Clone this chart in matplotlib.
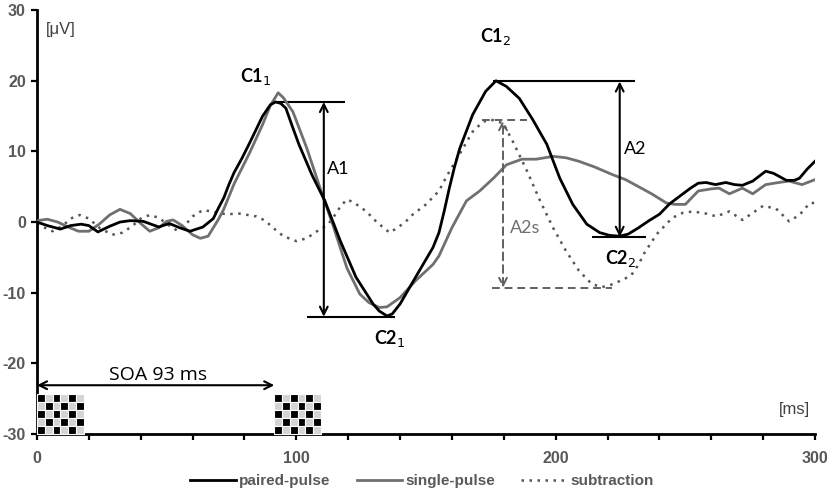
import matplotlib.pyplot as plt
from matplotlib.patches import Rectangle

plt.rcParams['font.family'] = ['Liberation Sans', 'DejaVu Sans']
plt.rcParams['axes.unicode_minus'] = False

# time axis (ms) and amplitude (uV)
t_paired = [0, 4, 9, 13, 17, 20, 23.5, 28, 32, 36, 41, 47, 51, 55, 59, 64, 68, 70,
            72, 74, 76, 79, 82, 87, 90, 92, 94, 96, 98.5, 101, 106, 111, 117, 123,
            129.6, 132, 135, 137, 140, 146, 152.7, 155, 157, 159, 161, 163, 168,
            173, 177, 181, 186, 191, 196.6, 201.6, 206.6, 212, 217, 221, 224.7,
            228, 232, 236, 240, 244, 248, 252, 255, 258, 261.6, 265.6, 269, 272,
            276, 281, 284, 287, 289, 292, 294, 297, 300]
v_paired = [0.0, -0.5, -1.0, -0.5, -0.3, -0.5, -1.4, -0.6, 0.0, 0.2, 0.1, -0.7,
            -0.2, -0.8, -1.3, -0.7, 0.5, 2.0, 3.4, 5.3, 7.0, 9.0, 11.2, 15.0, 16.6,
            17.0, 16.8, 16.1, 13.5, 11.0, 6.7, 3.0, -2.7, -7.8, -11.6, -12.6, -13.3,
            -13.0, -11.6, -7.8, -3.6, -1.5, 1.5, 4.8, 7.8, 10.4, 15.2, 18.5, 20.0,
            19.2, 17.5, 14.6, 11.0, 6.2, 2.5, -0.3, -1.5, -1.9, -2.0, -1.7, -0.8,
            0.2, 1.1, 2.6, 3.7, 4.8, 5.5, 5.6, 5.3, 5.6, 5.3, 5.2, 5.8, 7.2, 6.9,
            6.3, 5.9, 5.9, 6.2, 7.5, 8.6]

t_single = [0, 4, 8, 12, 16, 20, 24, 28, 32, 36, 40, 43.5, 47, 50, 52.5, 56, 60,
            63, 66, 70, 72, 74, 76, 79, 82, 87, 90, 93, 95, 98.7, 104, 110, 114,
            119.5, 124.5, 128, 132, 135, 140, 146, 152.7, 155, 160, 165.6, 170.7,
            176, 181, 187, 192.5, 199, 204, 209, 215, 222, 227, 232, 237, 242.7,
            246, 250, 255, 260, 263, 267, 272, 276, 281, 286, 290, 295, 300]
v_single = [0.2, 0.4, 0.0, -0.7, -1.3, -1.3, -0.3, 1.0, 1.8, 1.2, -0.2, -1.3, -0.8,
            0.1, 0.3, -0.5, -1.8, -2.3, -2.0, 0.4, 1.8, 3.6, 5.4, 7.6, 9.8, 13.8,
            16.5, 18.3, 17.6, 15.6, 10.5, 3.9, -0.3, -6.5, -10.2, -11.4, -12.1,
            -12.0, -10.7, -8.3, -6.0, -4.8, -0.8, 3.0, 4.4, 6.2, 8.1, 8.9, 8.9, 9.3,
            9.1, 8.6, 7.8, 6.7, 6.0, 5.0, 4.0, 2.7, 2.5, 2.5, 4.4, 4.7, 4.8, 4.0,
            4.8, 4.0, 5.3, 5.6, 5.8, 5.3, 6.0]

t_sub = [0, 3, 6, 10, 13, 16.5, 20, 24, 29, 33, 37, 40, 43.5, 47, 51, 54, 57, 60,
         64, 69, 73, 78, 84.6, 88, 91, 95, 100, 104, 108, 112, 114, 117, 119.5, 122,
         124, 127, 131, 136, 139, 142, 145, 150, 155, 158, 162, 168, 172, 175,
         179.7, 183.5, 189, 194, 199, 204, 209, 214, 218, 222, 225, 229, 232, 234,
         239, 245, 249, 253, 258, 262, 267, 272, 276, 280, 285, 290, 294, 298, 300]
v_sub = [-0.2, -0.8, -1.3, -0.5, 0.5, 1.0, 0.5, -0.8, -1.8, -1.5, -0.5, 0.5, 1.0,
         0.6, -0.5, -1.2, -0.5, 0.8, 1.7, 1.4, 1.1, 1.2, 0.8, 0.2, -0.8, -2.0, -2.7,
         -2.3, -1.3, -0.4, 0.5, 2.2, 3.2, 2.8, 2.3, 1.5, 0.0, -1.5, -0.8, 0.0, 1.1,
         2.5, 4.4, 6.5, 9.0, 12.8, 14.2, 14.5, 14.0, 11.4, 7.2, 3.0, -0.8, -4.1,
         -6.9, -8.8, -9.2, -8.8, -8.3, -7.6, -6.0, -4.5, -1.7, 0.6, 1.3, 1.5, 1.2,
         0.8, 1.5, 0.3, 1.3, 2.3, 1.9, 0.1, 1.0, 2.7, 2.7]

labels = ['paired-pulse', 'single-pulse', 'subtraction']
x_ticks = [0, 100, 200, 300]
y_ticks = [-30, -20, -10, 0, 10, 20, 30]

fig = plt.figure(figsize=(8.29, 4.94), dpi=100)
ax = fig.add_axes([0.0446, 0.1215, 0.9385, 0.858])

ax.plot(t_paired, v_paired, color='black', lw=2.0, label=labels[0], zorder=4)
ax.plot(t_single, v_single, color='#707070', lw=2.0, label=labels[1], zorder=3)
ax.plot(t_sub, v_sub, color='#555555', lw=1.8, ls=(0, (1, 2.2)), label=labels[2], zorder=2)

ax.set_xlim(0, 300)
ax.set_ylim(-30, 30)
ax.set_xticks(range(0, 301, 20), minor=True)
ax.set_xticks(x_ticks)
ax.set_yticks(y_ticks)
for s in ['top', 'right']:
    ax.spines[s].set_visible(False)
for s in ['left', 'bottom']:
    ax.spines[s].set_linewidth(2)
ax.tick_params(which='both', direction='out', length=4, width=1.6, color='black')
ax.tick_params(axis='both', labelsize=11.5, labelcolor='#595959', pad=4)
for lab in ax.get_xticklabels() + ax.get_yticklabels():
    lab.set_fontweight('bold')
ax.tick_params(axis='x', pad=8)

ax.text(3.5, 27.3, '[μV]', fontsize=12, color='#404040', va='center')
ax.text(298, -26.6, '[ms]', fontsize=12, color='#404040', va='center', ha='right')

# peak/trough markers and amplitudes
ann = dict(fontsize=13, family=['Lato', 'DejaVu Sans'])
ax.hlines(17.0, 91.8, 118.7, color='black', lw=1.5)
ax.hlines(-13.4, 104, 138, color='black', lw=1.5)
ax.annotate('', xy=(110.6, 17.0), xytext=(110.6, -13.4),
            arrowprops=dict(arrowstyle='<->', color='black', lw=1.5, shrinkA=0, shrinkB=0,
                            mutation_scale=14))
ax.text(112, 7.5, 'A1', va='center', **ann)
ax.text(84.5, 20.6, 'C1$_1$', ha='center', va='center', fontweight='bold', **ann)
ax.text(136, -16.5, 'C2$_1$', ha='center', va='center', fontweight='bold', **ann)

ax.hlines(19.9, 175.8, 230.5, color='black', lw=1.5)
ax.hlines(-2.1, 214, 235, color='black', lw=1.5)
ax.annotate('', xy=(224.7, 19.9), xytext=(224.7, -2.1),
            arrowprops=dict(arrowstyle='<->', color='black', lw=1.5, shrinkA=0, shrinkB=0,
                            mutation_scale=14))
ax.text(226.5, 10.3, 'A2', va='center', **ann)
ax.text(177, 26.2, 'C1$_2$', ha='center', va='center', fontweight='bold', **ann)
ax.text(225, -5.2, 'C2$_2$', ha='center', va='center', fontweight='bold', **ann)

ax.hlines(14.4, 171.5, 189, color='#606060', lw=1.4, ls=(0, (4, 2.5)))
ax.hlines(-9.3, 175.4, 221.7, color='#606060', lw=1.4, ls=(0, (4, 2.5)))
ax.annotate('', xy=(179.7, 14.4), xytext=(179.7, -9.3),
            arrowprops=dict(arrowstyle='<->', color='#606060', lw=1.4, ls=(0, (4, 2.5)),
                            shrinkA=0, shrinkB=0, mutation_scale=14))
ax.text(182.3, -0.8, 'A2s', va='center', color='#707070', **ann)

# SOA arrow and checkerboard stimuli
ax.annotate('', xy=(0, -23.1), xytext=(91.5, -23.1),
            arrowprops=dict(arrowstyle='<->', color='black', lw=1.5, shrinkA=0, shrinkB=0,
                            mutation_scale=14))
ax.text(46.5, -21.6, 'SOA 93 ms', ha='center', va='center', fontsize=14,
        family=['Open Sans', 'DejaVu Sans'])

cell_w, cell_h = 3.0, 1.14
for x0 in [0, 91.5]:
    for r in range(5):
        for c in range(6):
            col = 'black' if (r + c) % 2 == 0 else '#d4d4d4'
            ax.add_patch(Rectangle((x0 + c * cell_w, -24.3 - (r + 1) * cell_h), cell_w, cell_h,
                                   facecolor=col, edgecolor='white', lw=0.8, zorder=5,
                                   clip_on=False))

leg = fig.legend(loc='center', bbox_to_anchor=(0.509, 0.026), ncol=3, frameon=False,
                 handlelength=3.0, columnspacing=1.7, handletextpad=0.2,
                 prop={'size': 11, 'weight': 'bold'})
for txt in leg.get_texts():
    txt.set_color('#595959')

fig.savefig('out.png', dpi=100)
